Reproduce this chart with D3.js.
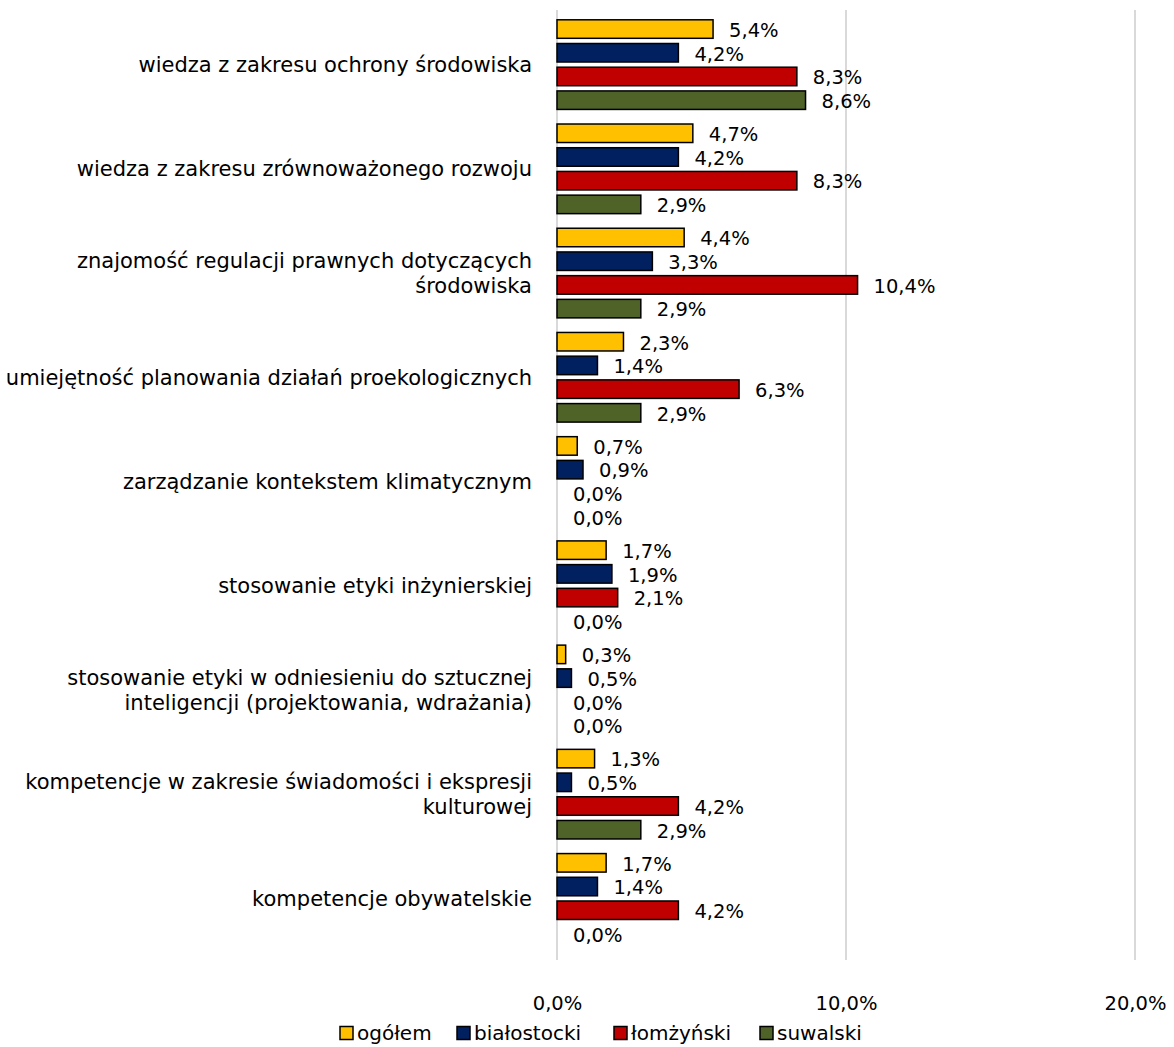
<!DOCTYPE html>
<html>
<head>
<meta charset="utf-8">
<script src="https://cdn.jsdelivr.net/npm/d3@7"></script>
<style>
  body { margin: 0; background: #fff; }
  svg text { font-family: "DejaVu Sans", Verdana, sans-serif; fill: #000; }
</style>
</head>
<body>
<svg id="chart"></svg>
<script>
const categories = [
  ['wiedza z zakresu ochrony środowiska'],
  ['wiedza z zakresu zrównoważonego rozwoju'],
  ['znajomość regulacji prawnych dotyczących', 'środowiska'],
  ['umiejętność planowania działań proekologicznych'],
  ['zarządzanie kontekstem klimatycznym'],
  ['stosowanie etyki inżynierskiej'],
  ['stosowanie etyki w odniesieniu do sztucznej', 'inteligencji (projektowania, wdrażania)'],
  ['kompetencje w zakresie świadomości i ekspresji', 'kulturowej'],
  ['kompetencje obywatelskie']
];
const seriesNames = ['ogółem', 'białostocki', 'łomżyński', 'suwalski'];
const seriesColors = ['#FFC000', '#002060', '#C00000', '#4F6228'];
const ogolem      = [5.4, 4.7, 4.4, 2.3, 0.7, 1.7, 0.3, 1.3, 1.7];
const bialostocki = [4.2, 4.2, 3.3, 1.4, 0.9, 1.9, 0.5, 0.5, 1.4];
const lomzynski   = [8.3, 8.3, 10.4, 6.3, 0.0, 2.1, 0.0, 4.2, 4.2];
const suwalski    = [8.6, 2.9, 2.9, 2.9, 0.0, 0.0, 0.0, 2.9, 0.0];
const xTicks = [0, 10, 20];

const values = [ogolem, bialostocki, lomzynski, suwalski];
const fmt = v => v.toFixed(1).replace('.', ',') + '%';

const W = 1174, H = 1047;
const svg = d3.select('#chart').attr('width', W).attr('height', H);

const x = d3.scaleLinear().domain([0, 20]).range([557, 1135]);
const y0 = d3.scaleBand().domain(d3.range(categories.length)).range([12.5, 950.5]);
const y1 = d3.scaleBand().domain(d3.range(seriesNames.length)).range([0, y0.bandwidth()])
  .paddingInner(0.156).paddingOuter(0.276);

// gridlines
svg.append('g')
  .selectAll('line')
  .data(xTicks)
  .enter()
  .append('line')
  .attr('x1', d => x(d)).attr('x2', d => x(d))
  .attr('y1', 10).attr('y2', 960)
  .attr('stroke', '#d9d9d9')
  .attr('stroke-width', 2);

// x axis labels
const xAxis = svg.append('g')
  .attr('transform', 'translate(0, 1003)')
  .call(d3.axisBottom(x).tickValues(xTicks).tickFormat(fmt).tickSize(0));
xAxis.select('.domain').remove();
xAxis.selectAll('text')
  .style('font-family', '"DejaVu Sans", Verdana, sans-serif')
  .style('font-size', '19.5px')
  .attr('y', 0)
  .attr('dy', '0.35em');

// bars
const groups = svg.append('g')
  .selectAll('g')
  .data(categories)
  .enter()
  .append('g')
  .attr('transform', (d, i) => `translate(0, ${y0(i)})`);

groups.each(function(cat, i) {
  const g = d3.select(this);
  seriesNames.forEach((s, j) => {
    const v = values[j][i];
    if (v > 0) {
      g.append('rect')
        .attr('x', x(0))
        .attr('y', y1(j) + 0.75)
        .attr('width', x(v) - x(0))
        .attr('height', y1.bandwidth() - 1.5)
        .attr('fill', seriesColors[j])
        .attr('stroke', '#000')
        .attr('stroke-width', 1.5);
    }
    g.append('text')
      .attr('x', x(v) + 16)
      .attr('y', y1(j) + y1.bandwidth() / 2)
      .attr('dy', '0.4em')
      .style('font-size', '19.5px')
      .text(fmt(v));
  });

  // category label
  const lh = 25;
  const cy = y0.bandwidth() / 2;
  const t = g.append('text')
    .attr('text-anchor', 'end')
    .style('font-size', '21px');
  cat.forEach((line, k) => {
    t.append('tspan')
      .attr('x', 532)
      .attr('y', cy + (k - (cat.length - 1) / 2) * lh)
      .attr('dy', '0.35em')
      .text(line);
  });
});

// legend
const legendX = [340, 457, 614, 760];
const legend = svg.append('g').attr('transform', 'translate(0, 1033)');
seriesNames.forEach((s, j) => {
  legend.append('rect')
    .attr('x', legendX[j]).attr('y', -6.5)
    .attr('width', 13).attr('height', 13)
    .attr('fill', seriesColors[j])
    .attr('stroke', '#000')
    .attr('stroke-width', 1.5);
  legend.append('text')
    .attr('x', legendX[j] + 17)
    .attr('y', 0)
    .attr('dy', '0.35em')
    .style('font-size', '20px')
    .text(s);
});
</script>
</body>
</html>
